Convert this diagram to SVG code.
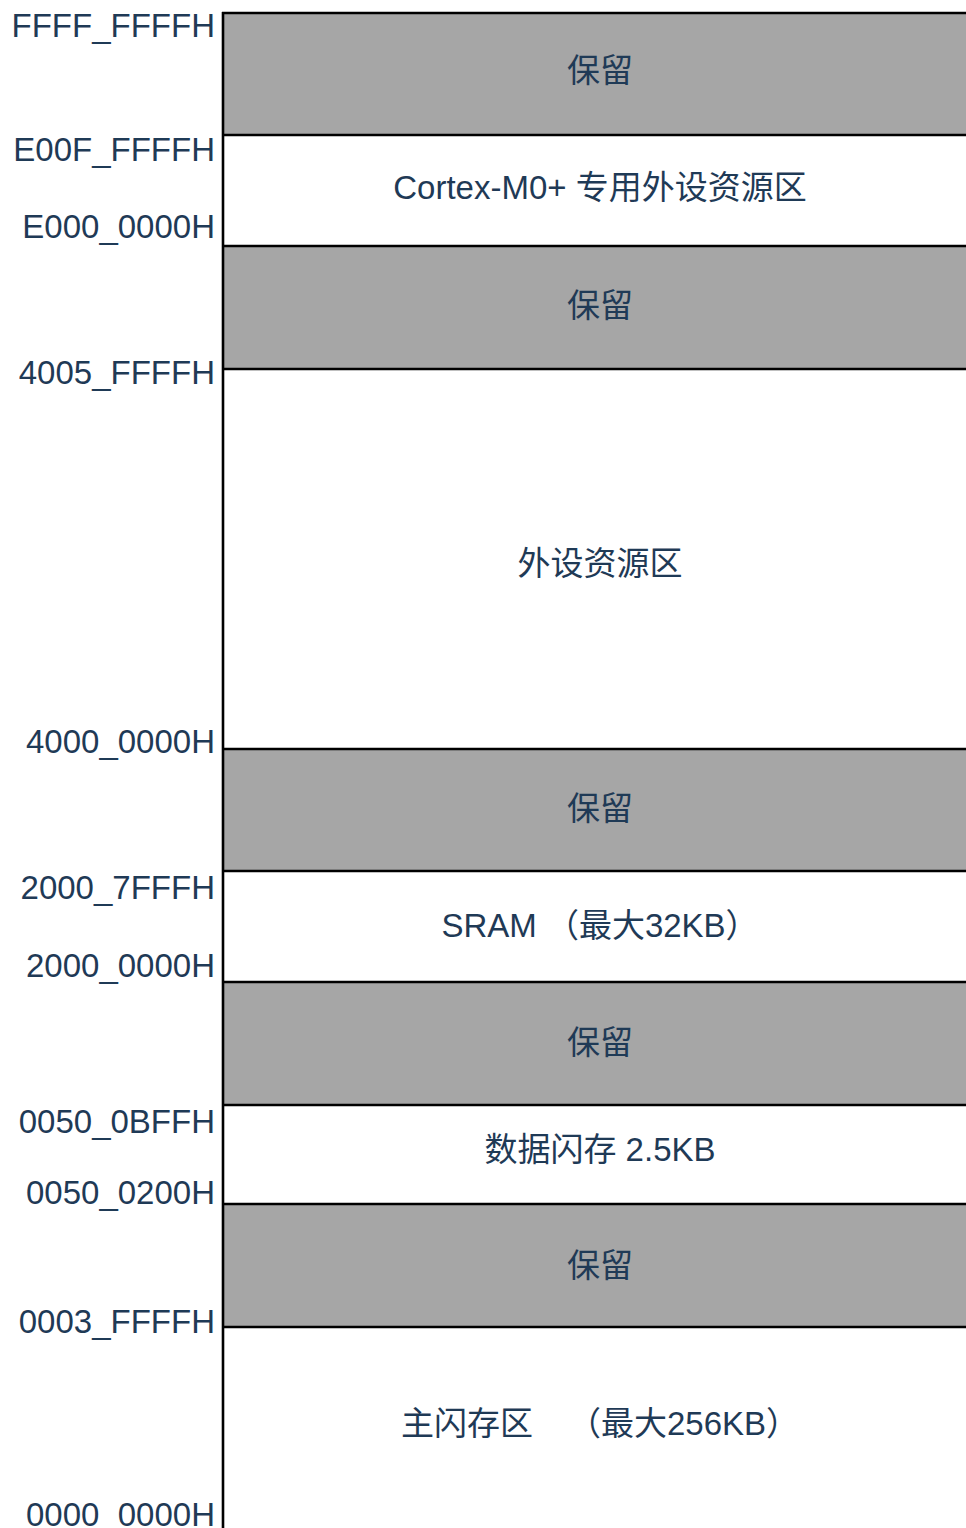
<svg xmlns="http://www.w3.org/2000/svg" width="966" height="1528" viewBox="0 0 966 1528">
<style>
.t{font-family:"Liberation Sans","Noto Sans CJK SC",Arial,sans-serif;font-size:33px;fill:#1f3a56}
.a{text-anchor:end}
.c{text-anchor:middle}
.g{fill:#a6a6a6}
.w{fill:#ffffff}
.ln{stroke:#000;stroke-width:2.6;fill:none}
</style>
<rect width="966" height="1528" fill="#fff"/>
<g id="r1"><rect class="g" x="223" y="13" width="743" height="122"/><text class="t c" x="600" y="82">保留</text></g>
<g id="r2"><rect class="w" x="223" y="135" width="743" height="111"/><text class="t c" x="600" y="199">Cortex-M0+ 专用外设资源区</text></g>
<g id="r3"><rect class="g" x="223" y="246" width="743" height="123"/><text class="t c" x="600" y="317">保留</text></g>
<g id="r4"><rect class="w" x="223" y="369" width="743" height="380"/><text class="t c" x="600" y="575">外设资源区</text></g>
<g id="r5"><rect class="g" x="223" y="749" width="743" height="122"/><text class="t c" x="600" y="820">保留</text></g>
<g id="r6"><rect class="w" x="223" y="871" width="743" height="111"/><text class="t c" x="600" y="937">SRAM （最大32KB）</text></g>
<g id="r7"><rect class="g" x="223" y="982" width="743" height="123"/><text class="t c" x="600" y="1054">保留</text></g>
<g id="r8"><rect class="w" x="223" y="1105" width="743" height="99"/><text class="t c" x="600" y="1161">数据闪存 2.5KB</text></g>
<g id="r9"><rect class="g" x="223" y="1204" width="743" height="123"/><text class="t c" x="600" y="1277">保留</text></g>
<g id="r10"><rect class="w" x="223" y="1327" width="743" height="201"/><text class="t" x="401" y="1435">主闪存区<tspan x="568">（最大256KB）</tspan></text></g>
<g id="lines">
<line class="ln" x1="223" y1="12" x2="223" y2="1528"/>
<line class="ln" x1="222" y1="13" x2="966" y2="13"/>
<line class="ln" x1="222" y1="135" x2="966" y2="135"/>
<line class="ln" x1="222" y1="246" x2="966" y2="246"/>
<line class="ln" x1="222" y1="369" x2="966" y2="369"/>
<line class="ln" x1="222" y1="749" x2="966" y2="749"/>
<line class="ln" x1="222" y1="871" x2="966" y2="871"/>
<line class="ln" x1="222" y1="982" x2="966" y2="982"/>
<line class="ln" x1="222" y1="1105" x2="966" y2="1105"/>
<line class="ln" x1="222" y1="1204" x2="966" y2="1204"/>
<line class="ln" x1="222" y1="1327" x2="966" y2="1327"/>
</g>
<g id="addresses">
<text class="t a" x="215" y="37">FFFF_FFFFH</text>
<text class="t a" x="215" y="161">E00F_FFFFH</text>
<text class="t a" x="215" y="238">E000_0000H</text>
<text class="t a" x="215" y="384">4005_FFFFH</text>
<text class="t a" x="215" y="753">4000_0000H</text>
<text class="t a" x="215" y="899">2000_7FFFH</text>
<text class="t a" x="215" y="977">2000_0000H</text>
<text class="t a" x="215" y="1133">0050_0BFFH</text>
<text class="t a" x="215" y="1204">0050_0200H</text>
<text class="t a" x="215" y="1333">0003_FFFFH</text>
<text class="t a" x="215" y="1526">0000_0000H</text>
</g>
</svg>
